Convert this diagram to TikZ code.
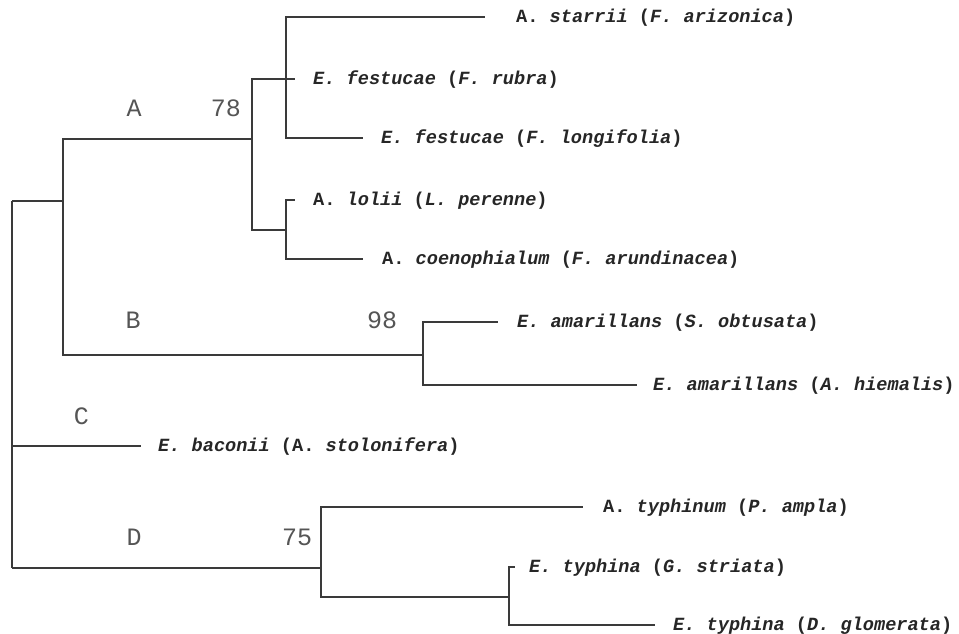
\documentclass[tikz,border=0pt]{standalone}
\usepackage{fontspec}
\setmonofont{Liberation Mono}
\newcommand\ital[1]{\textit{#1}}
\definecolor{treeline}{HTML}{3A3A3A}
\definecolor{leaftext}{HTML}{262626}
\definecolor{cladetext}{HTML}{555555}
\tikzset{
  branch/.style={draw=treeline, line width=1.2pt},
  leaf/.style={anchor=base west, inner sep=0pt, text=leaftext,
    font=\ttfamily\bfseries\fontsize{18.6}{20}\selectfont},
  clade/.style={anchor=center, inner sep=0pt, text=cladetext,
    font=\ttfamily\fontsize{25}{25}\selectfont}
}
\begin{document}
\begin{tikzpicture}[x=1pt,y=-1pt]
\useasboundingbox (0,0) rectangle (959,634);
\fill[white] (0,0) rectangle (959,634);
% internal nodes
\coordinate (root)  at (12,201);
\coordinate (rootC) at (12,446);
\coordinate (rootD) at (12,568);
\coordinate (n1)  at (63,201);
\coordinate (nA)  at (252,139);
\coordinate (nA1) at (286,79);
\coordinate (nA2) at (286,230);
\coordinate (nB)  at (423,355);
\coordinate (nD)  at (321,568);
\coordinate (nD2) at (509,597);
% leaf line ends
\coordinate (l1) at (485,17);
\coordinate (l2) at (295,79);
\coordinate (l3) at (363,138);
\coordinate (l4) at (295,200);
\coordinate (l5) at (363,259);
\coordinate (l6) at (498,322);
\coordinate (l7) at (637,385);
\coordinate (l8) at (141,446);
\coordinate (l9) at (583,507);
\coordinate (l10) at (515,567);
\coordinate (l11) at (655,625);
% leaf texts
\node[leaf] (t1) at (516,22.5) {A. \ital{starrii} (\ital{F. arizonica})};
\node[leaf] (t2) at (313,84.5) {\ital{E. festucae} (\ital{F. rubra})};
\node[leaf] (t3) at (381,143.5) {\ital{E. festucae} (\ital{F. longifolia})};
\node[leaf] (t4) at (313,205.5) {A. \ital{lolii} (\ital{L. perenne})};
\node[leaf] (t5) at (382,264.5) {A. \ital{coenophialum} (\ital{F. arundinacea})};
\node[leaf] (t6) at (517,327.5) {\ital{E. amarillans} (\ital{S. obtusata})};
\node[leaf] (t7) at (653,390.5) {\ital{E. amarillans} (\ital{A. hiemalis})};
\node[leaf] (t8) at (158,451.5) {\ital{E. baconii} (A. \ital{stolonifera})};
\node[leaf] (t9) at (603,512.5) {A. \ital{typhinum} (\ital{P. ampla})};
\node[leaf] (t10) at (529,572.5) {\ital{E. typhina} (\ital{G. striata})};
\node[leaf] (t11) at (673,630.5) {\ital{E. typhina} (\ital{D. glomerata})};
% clade labels
\node[clade] (cA) at (134,108) {A};
\node[clade] (s78) at (226,108) {78};
\node[clade] (cB) at (133,320) {B};
\node[clade] (s98) at (382,320) {98};
\node[clade] (cC) at (81.5,416) {C};
\node[clade] (cD) at (134,537) {D};
\node[clade] (s75) at (297,537) {75};
% branches
\draw[branch] (root) -- (rootD);
\draw[branch] (root) -- (n1);
\draw[branch] (rootC) -- (l8);
\draw[branch] (rootD) -- (nD);
\draw[branch] (n1) |- (nA);
\draw[branch] (n1) |- (nB);
\draw[branch] (nA) |- (nA1);
\draw[branch] (nA) |- (nA2);
\draw[branch] (nA1) -- (l2);
\draw[branch] (nA1) |- (l1);
\draw[branch] (nA1) |- (l3);
\draw[branch] (nA2) |- (l4);
\draw[branch] (nA2) |- (l5);
\draw[branch] (nB) |- (l6);
\draw[branch] (nB) |- (l7);
\draw[branch] (nD) |- (l9);
\draw[branch] (nD) |- (nD2);
\draw[branch] (nD2) |- (l10);
\draw[branch] (nD2) |- (l11);
\end{tikzpicture}
\end{document}
